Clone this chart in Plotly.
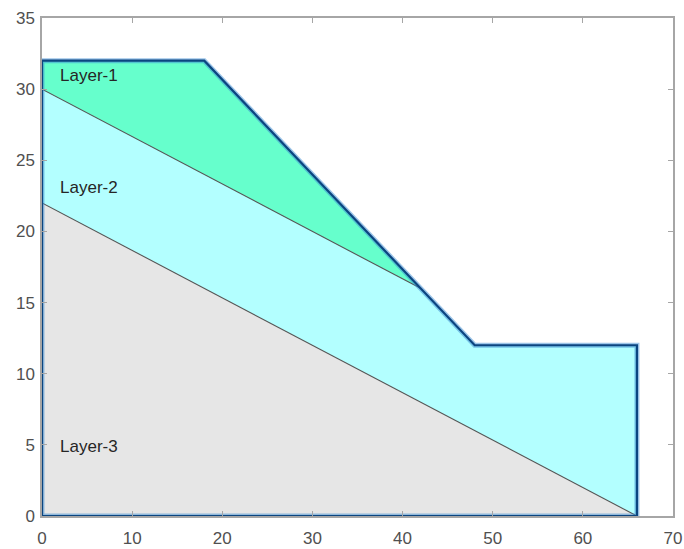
import plotly.graph_objects as go

# Soil layer polygons (x, y vertices in metres)
layer1_x = [0, 18, 42, 0, 0]
layer1_y = [32, 32, 16, 30, 32]
layer2_x = [0, 42, 48, 66, 66, 0, 0]
layer2_y = [30, 16, 12, 12, 0, 22, 30]
layer3_x = [0, 66, 0, 0]
layer3_y = [22, 0, 0, 22]

# Outer slope boundary
boundary_x = [0, 0, 18, 48, 66, 66, 0]
boundary_y = [0, 32, 32, 12, 12, 0, 0]

# Interfaces between layers
iface1_x = [0, 42]
iface1_y = [30, 16]
iface2_x = [0, 66]
iface2_y = [22, 0]

labels = ["Layer-1", "Layer-2", "Layer-3"]
label_x = [2.0, 2.0, 2.0]
label_y = [30.9, 23.0, 4.8]

fills = ["#66FFCC", "#B3FFFF", "#E6E6E6"]

fig = go.Figure()
for xs, ys, c in [(layer3_x, layer3_y, fills[2]),
                  (layer2_x, layer2_y, fills[1]),
                  (layer1_x, layer1_y, fills[0])]:
    fig.add_trace(go.Scatter(x=xs, y=ys, fill="toself", fillcolor=c,
                             mode="lines", line=dict(width=0),
                             hoverinfo="skip", showlegend=False))

for xs, ys in [(iface1_x, iface1_y), (iface2_x, iface2_y)]:
    fig.add_trace(go.Scatter(x=xs, y=ys, mode="lines",
                             line=dict(color="#555555", width=1.1),
                             showlegend=False, hoverinfo="skip"))

# boundary with a soft halo
fig.add_trace(go.Scatter(x=boundary_x, y=boundary_y, mode="lines",
                         line=dict(color="rgba(60,140,210,0.5)", width=5),
                         showlegend=False, hoverinfo="skip"))
fig.add_trace(go.Scatter(x=boundary_x, y=boundary_y, mode="lines",
                         line=dict(color="#0b4580", width=2.2),
                         showlegend=False, hoverinfo="skip"))

fig.add_trace(go.Scatter(x=label_x, y=label_y, mode="text", text=labels,
                         textposition="middle right",
                         textfont=dict(family="Arial, Liberation Sans", size=17, color="#262626"),
                         showlegend=False, hoverinfo="skip"))

axis_common = dict(showgrid=False, zeroline=False, showline=True, mirror="ticks",
                   linecolor="#a6a6a6", linewidth=1.5, ticks="inside", ticklen=5,
                   tickcolor="#a6a6a6", tickwidth=1, automargin=False,
                   tickfont=dict(family="Arial, Liberation Sans", size=17, color="#505050"))

fig.update_layout(
    width=684, height=549,
    margin=dict(l=42, r=11, t=18, b=33, autoexpand=False),
    paper_bgcolor="white", plot_bgcolor="white",
    xaxis=dict(range=[0, 70], dtick=10, ticklabelstandoff=6, **axis_common),
    yaxis=dict(range=[0, 35], dtick=5, ticklabelstandoff=2, **axis_common),
)

fig.write_html("out.html")
